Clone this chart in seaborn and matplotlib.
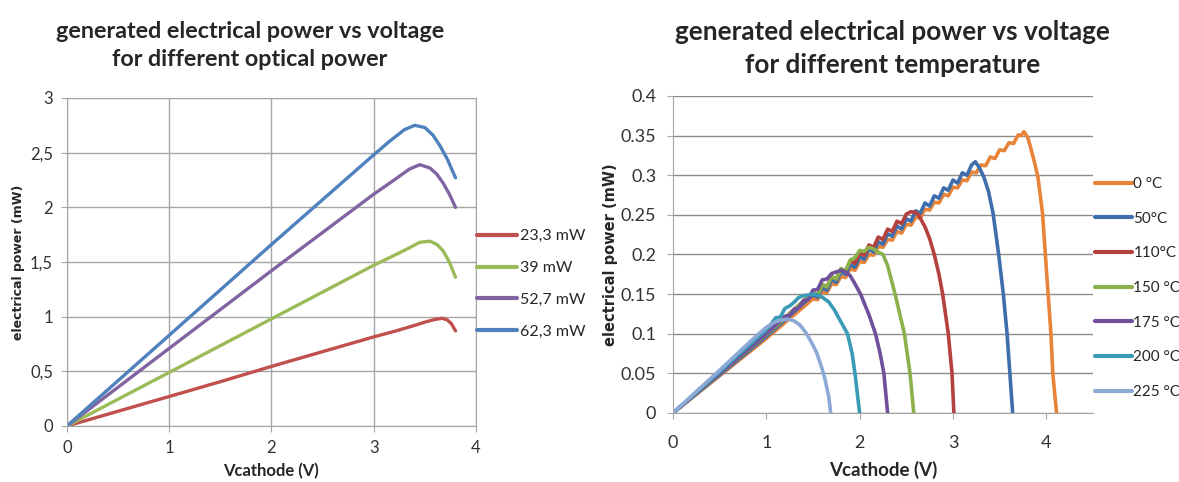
import matplotlib
matplotlib.use("Agg")
import matplotlib.pyplot as plt
from matplotlib.lines import Line2D
import pandas as pd
import seaborn as sns

# ---- left chart: optical power ----
opt_labels = ["23,3 mW", "39 mW", "52,7 mW", "62,3 mW"]
opt_colors = ["#C0504D", "#9BBB59", "#8064A2", "#4F81BD"]

v_233 = [0, 0.5, 1, 1.5, 2, 2.5, 3, 3.2, 3.4, 3.5, 3.6, 3.67, 3.72, 3.76, 3.8]
p_233 = [0, 0.135, 0.27, 0.405, 0.545, 0.68, 0.815, 0.865, 0.92, 0.95, 0.975, 0.985, 0.97, 0.935, 0.87]

v_39 = [0, 0.5, 1, 1.5, 2, 2.5, 3, 3.2, 3.35, 3.45, 3.55, 3.62, 3.68, 3.74, 3.8]
p_39 = [0, 0.245, 0.49, 0.735, 0.98, 1.225, 1.47, 1.56, 1.63, 1.68, 1.69, 1.66, 1.6, 1.5, 1.36]

v_527 = [0, 0.5, 1, 1.5, 2, 2.5, 3, 3.2, 3.35, 3.45, 3.55, 3.62, 3.68, 3.74, 3.8]
p_527 = [0, 0.355, 0.71, 1.065, 1.42, 1.77, 2.12, 2.25, 2.35, 2.39, 2.36, 2.3, 2.22, 2.12, 2.0]

v_623 = [0, 0.5, 1, 1.5, 2, 2.5, 3, 3.15, 3.3, 3.4, 3.5, 3.58, 3.65, 3.72, 3.8]
p_623 = [0, 0.415, 0.83, 1.245, 1.66, 2.07, 2.48, 2.6, 2.71, 2.75, 2.73, 2.66, 2.56, 2.44, 2.27]

# ---- right chart: temperature ----
temp_labels = ["0 °C", "50°C", "110°C", "150 °C", "175 °C", "200 °C", "225 °C"]
temp_colors = ["#E8843A", "#3E6EAB", "#B4413E", "#8CB04C", "#70509A", "#3A9BB7", "#8DAAD6"]

v_0 = [0, 0.5, 1.0, 1.5, 1.55, 1.6, 1.65, 1.7, 1.75, 1.8, 1.85, 1.9, 1.95, 2.0, 2.05,
       2.1, 2.15, 2.2, 2.25, 2.3, 2.35, 2.4, 2.45, 2.5, 2.55, 2.6, 2.65, 2.7, 2.75,
       2.8, 2.85, 2.9, 2.95, 3.0, 3.05, 3.1, 3.15, 3.2, 3.25, 3.3, 3.35, 3.4, 3.45,
       3.5, 3.55, 3.6, 3.65, 3.7, 3.73, 3.76, 3.8, 3.83, 3.87, 3.91, 3.96, 3.99,
       4.02, 4.05, 4.07, 4.11]
p_0 = [0, 0.047, 0.094, 0.144, 0.143, 0.153, 0.152, 0.163, 0.162, 0.172, 0.171, 0.182,
       0.180, 0.191, 0.190, 0.200, 0.199, 0.210, 0.209, 0.219, 0.218, 0.229, 0.227,
       0.238, 0.237, 0.247, 0.246, 0.257, 0.256, 0.266, 0.265, 0.276, 0.274, 0.285,
       0.284, 0.294, 0.293, 0.304, 0.303, 0.313, 0.312, 0.323, 0.321, 0.332, 0.331,
       0.341, 0.340, 0.351, 0.350, 0.355, 0.348, 0.336, 0.318, 0.298, 0.252, 0.200,
       0.150, 0.100, 0.050, 0.0]

v_50 = [0, 0.5, 1.0, 1.5, 1.55, 1.6, 1.65, 1.7, 1.75, 1.8, 1.85, 1.9, 1.95, 2.0, 2.05,
        2.1, 2.15, 2.2, 2.25, 2.3, 2.35, 2.4, 2.45, 2.5, 2.55, 2.6, 2.65, 2.7, 2.75,
        2.8, 2.85, 2.9, 2.95, 3.0, 3.05, 3.1, 3.15, 3.2, 3.24, 3.28, 3.33, 3.38,
        3.43, 3.49, 3.54, 3.58, 3.61, 3.64]
p_50 = [0, 0.048, 0.0965, 0.149, 0.146, 0.158, 0.155, 0.168, 0.165, 0.178, 0.175,
        0.187, 0.184, 0.197, 0.194, 0.207, 0.203, 0.216, 0.213, 0.226, 0.223, 0.236,
        0.232, 0.245, 0.242, 0.255, 0.252, 0.265, 0.261, 0.274, 0.271, 0.284, 0.281,
        0.294, 0.290, 0.303, 0.300, 0.313, 0.317, 0.310, 0.298, 0.280, 0.252, 0.200,
        0.150, 0.100, 0.050, 0.0]

v_110 = [0, 0.5, 1.0, 1.5, 1.55, 1.6, 1.65, 1.7, 1.75, 1.8, 1.85, 1.9, 1.95, 2.0, 2.05,
         2.1, 2.15, 2.2, 2.25, 2.3, 2.35, 2.4, 2.45, 2.5, 2.55, 2.6, 2.63, 2.7, 2.75,
         2.8, 2.85, 2.89, 2.95, 2.99, 3.01]
p_110 = [0, 0.0495, 0.099, 0.152, 0.149, 0.162, 0.159, 0.172, 0.169, 0.182, 0.179,
         0.192, 0.189, 0.202, 0.199, 0.212, 0.209, 0.222, 0.219, 0.232, 0.229, 0.242,
         0.239, 0.251, 0.254, 0.253, 0.250, 0.235, 0.220, 0.200, 0.175, 0.150, 0.100,
         0.050, 0.0]

v_150 = [0, 0.5, 1.0, 1.5, 1.55, 1.6, 1.65, 1.7, 1.75, 1.8, 1.85, 1.9, 1.95, 2.0, 2.05,
         2.1, 2.15, 2.2, 2.25, 2.3, 2.38, 2.44, 2.48, 2.54, 2.58]
p_150 = [0, 0.0495, 0.099, 0.152, 0.149, 0.162, 0.159, 0.172, 0.169, 0.182, 0.179,
         0.193, 0.196, 0.205, 0.204, 0.209, 0.207, 0.203, 0.200, 0.186, 0.150, 0.120,
         0.100, 0.050, 0.0]

v_175 = [0, 0.5, 1.0, 1.2, 1.25, 1.3, 1.35, 1.4, 1.45, 1.5, 1.55, 1.6, 1.65, 1.7, 1.75,
         1.8, 1.85, 1.9, 1.95, 2.01, 2.1, 2.17, 2.22, 2.26, 2.3]
p_175 = [0, 0.05, 0.1, 0.122, 0.123, 0.131, 0.133, 0.142, 0.143, 0.155, 0.156, 0.168,
         0.169, 0.176, 0.178, 0.180, 0.178, 0.173, 0.163, 0.150, 0.124, 0.100, 0.075,
         0.050, 0.0]

v_200 = [0, 0.5, 1.0, 1.05, 1.1, 1.15, 1.2, 1.25, 1.3, 1.35, 1.4, 1.45, 1.5, 1.55, 1.6,
         1.67, 1.73, 1.79, 1.87, 1.92, 1.95, 2.0]
p_200 = [0, 0.052, 0.105, 0.112, 0.120, 0.121, 0.132, 0.135, 0.140, 0.146, 0.148, 0.149,
         0.150, 0.149, 0.146, 0.140, 0.130, 0.117, 0.100, 0.075, 0.050, 0.0]

v_225 = [0, 0.5, 0.9, 1.0, 1.05, 1.1, 1.15, 1.2, 1.25, 1.3, 1.36, 1.42, 1.48, 1.54,
         1.6, 1.63, 1.67, 1.69]
p_225 = [0, 0.054, 0.098, 0.108, 0.112, 0.115, 0.117, 0.118, 0.118, 0.116, 0.111,
         0.102, 0.090, 0.076, 0.055, 0.042, 0.020, 0.0]


def long_frame(xs, ys, labels):
    parts = []
    for x, y, lab in zip(xs, ys, labels):
        parts.append(pd.DataFrame({"V": x, "P": y, "series": lab}))
    return pd.concat(parts, ignore_index=True)


sns.set_style("white")
plt.rcParams["font.family"] = ["Lato", "DejaVu Sans"]

fig = plt.figure(figsize=(11.79, 4.82), dpi=100)
ax1 = fig.add_axes([0.0568, 0.1162, 0.3469, 0.6805])
ax2 = fig.add_axes([0.5708, 0.1432, 0.3562, 0.6577])

# left chart
df1 = long_frame([v_233, v_39, v_527, v_623], [p_233, p_39, p_527, p_623], opt_labels)
sns.lineplot(data=df1, x="V", y="P", hue="series", palette=dict(zip(opt_labels, opt_colors)),
             hue_order=opt_labels, sort=False, estimator=None, units="series",
             linewidth=2.4, legend=False, ax=ax1)
ax1.set_xlim(0, 4)
ax1.set_ylim(0, 3)
ax1.set_xticks([0, 1, 2, 3, 4])
ax1.set_yticks([0, 0.5, 1, 1.5, 2, 2.5, 3])
ax1.set_yticklabels(["0", "0,5", "1", "1,5", "2", "2,5", "3"])
ax1.grid(True, color="#A6A6A6", linewidth=1)
for s in ax1.spines.values():
    s.set_color("#A6A6A6")
ax1.tick_params(labelsize=12, colors="#333333", length=4, direction="out",
                color="#A6A6A6", left=True, bottom=True)
ax1.tick_params(axis="x", pad=6)
ax1.tick_params(axis="y", pad=6)
ax1.set_xlabel("Vcathode (V)", fontsize=12, fontweight="bold", labelpad=5)
ax1.set_ylabel("electrical power (mW)", fontsize=9, fontweight="bold",
               family="DejaVu Sans", labelpad=4)
h1 = [Line2D([], [], color=c, lw=3) for c in opt_colors]
ax1.legend(h1, opt_labels, loc="center left", bbox_to_anchor=(0.4046, 0.411),
           bbox_transform=fig.transFigure, frameon=False, fontsize=11.5,
           handlelength=2.5, handletextpad=0.2, labelspacing=1.1,
           borderpad=0, borderaxespad=0)

# right chart
df2 = long_frame([v_0, v_50, v_110, v_150, v_175, v_200, v_225],
                 [p_0, p_50, p_110, p_150, p_175, p_200, p_225], temp_labels)
sns.lineplot(data=df2, x="V", y="P", hue="series", palette=dict(zip(temp_labels, temp_colors)),
             hue_order=temp_labels, sort=False, estimator=None, units="series",
             linewidth=2.6, legend=False, ax=ax2)
ax2.set_xlim(0, 4.5)
ax2.set_ylim(0, 0.4)
ax2.set_xticks([0, 1, 2, 3, 4])
ax2.set_yticks([0, 0.05, 0.1, 0.15, 0.2, 0.25, 0.3, 0.35, 0.4])
ax2.set_yticklabels(["0", "0.05", "0.1", "0.15", "0.2", "0.25", "0.3", "0.35", "0.4"])
ax2.yaxis.grid(True, color="#8C8C8C", linewidth=1)
ax2.spines["top"].set_visible(False)
ax2.spines["right"].set_visible(False)
for s in ("left", "bottom"):
    ax2.spines[s].set_color("#A6A6A6")
ax2.tick_params(labelsize=13, colors="#333333", length=4, direction="out",
                color="#A6A6A6", left=True, bottom=True)
ax2.tick_params(axis="x", pad=12)
ax2.tick_params(axis="y", pad=8)
ax2.set_xlabel("Vcathode (V)", fontsize=13.5, fontweight="bold", labelpad=7)
ax2.set_ylabel("electrical power (mW)", fontsize=10.5, fontweight="bold",
               family="DejaVu Sans", labelpad=2)
h2 = [Line2D([], [], color=c, lw=3) for c in temp_colors]
ax2.legend(h2, temp_labels, loc="center left", bbox_to_anchor=(0.929, 0.4025),
           bbox_transform=fig.transFigure, frameon=False, fontsize=11,
           handlelength=2.4, handletextpad=0.1, labelspacing=1.35,
           borderpad=0, borderaxespad=0)

fig.text(0.212, 0.906, "generated electrical power vs voltage\nfor different optical power",
         ha="center", va="center", fontsize=16.8, fontweight="bold", linespacing=1.4)
fig.text(0.757, 0.9, "generated electrical power vs voltage\nfor different temperature",
         ha="center", va="center", fontsize=18.8, fontweight="bold", linespacing=1.45)

fig.savefig("out.png", dpi=100)
